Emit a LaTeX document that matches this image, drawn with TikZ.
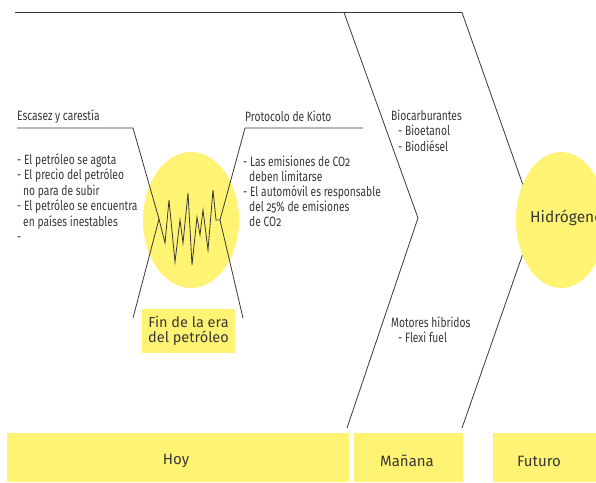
\documentclass[tikz,border=0pt]{standalone}
\usepackage{fontspec}
\setmainfont{Fira Sans}
\newfontfamily\condf[FakeStretch=0.76,Numbers=OldStyle]{Fira Sans}
\usetikzlibrary{shapes.geometric}
\definecolor{ylw}{HTML}{FFF373}
\definecolor{ink}{HTML}{383838}
\begin{document}
\begin{tikzpicture}[x=1pt,y=-1pt,
  ln/.style={anchor=base west,inner sep=0pt,text=ink,font=\condf\fontsize{13.5}{15}\selectfont},
  stroke/.style={draw=ink,line width=0.8pt},
  blob/.style={ellipse,fill=ylw,draw=none,inner sep=0pt},
  lbl/.style={inner sep=0pt,text=ink,font=\fontsize{15}{17}\selectfont}]
\useasboundingbox (0,0) rectangle (596,482);
\begin{scope}
\clip (0,0) rectangle (596,482);
% left ellipse
\node[blob,minimum width=96pt,minimum height=136pt] (oil) at (191,220) {};
% chevron lines
\coordinate (t0) at (15,12.5);
\coordinate (c1) at (344,12.5);
\coordinate (c2) at (418,218);
\coordinate (c3) at (347,428);
\coordinate (r1) at (462,12.5);
\coordinate (r2) at (535,219);
\coordinate (r3) at (462,428);
\draw[stroke] (t0) -- (r1) -- (r2) -- (r3);
\draw[stroke] (c1) -- (c2) -- (c3);
% right ellipse
\node[blob,minimum width=90pt,minimum height=136pt] (h2) at (561,220) {};
\node[lbl,anchor=west,font=\fontsize{15.5}{17}\selectfont] (h2t) at (530,218) {Hidrógeno};
% left branch
\coordinate (la) at (17,128);
\coordinate (lb) at (133,128);
\coordinate (lv) at (159,219);
\coordinate (lc) at (133,318);
\draw[stroke] (la) -- (lb) -- (lv) -- (lc);
% right branch
\coordinate (ra) at (363,128);
\coordinate (rb) at (245,128);
\coordinate (rv) at (220,220);
\coordinate (rc) at (243,318);
\draw[stroke] (ra) -- (rb) -- (rv) -- (rc);
% zigzag
\draw[stroke,line join=miter] (lv) -- (165,243) -- (169,200) -- (175,262) -- (180,220) -- (183,243) -- (188,193) -- (192,265) -- (197,217) -- (200,235) -- (203,210) -- (208,250) -- (213,190) -- (216,220) -- (rv);
% left texts
\node[ln] (l0) at (17,120) {Escasez y carestía};
\node[ln] (l1) at (17,164) {- El petróleo se agota};
\node[ln] (l2) at (17,179.5) {- El precio del petróleo};
\node[ln] (l3) at (23,195) {no para de subir};
\node[ln] (l4) at (17,210.5) {- El petróleo se encuentra};
\node[ln] (l5) at (23,226) {en países inestables};
\node[ln] (l6) at (17,241.5) {-};
% right texts
\node[ln] (k0) at (245,121) {Protocolo de Kioto};
\node[ln] (k1) at (243,166) {- Las emisiones de CO2};
\node[ln] (k2) at (249,181) {deben limitarse};
\node[ln] (k3) at (243,196) {- El automóvil es responsable};
\node[ln] (k4) at (249,211) {del 25\% de emisiones};
\node[ln] (k5) at (249,226) {de CO2};
% middle texts
\node[ln] (m0) at (391,120) {Biocarburantes};
\node[ln] (m1) at (398,135.5) {- Bioetanol};
\node[ln] (m2) at (398,151) {- Biodiésel};
\node[ln] (m3) at (391,327) {Motores híbridos};
\node[ln] (m4) at (398,342.5) {- Flexi fuel};
% fin box
\node[fill=ylw,minimum width=93pt,minimum height=44pt,inner sep=0pt,align=center,text=ink,font=\fontsize{14.5}{15}\selectfont] (fin) at (188.5,331) {Fin de la era\\del petróleo};
% bottom bands
\fill[ylw] (7,433) rectangle (349,482);
\fill[ylw] (354,433) rectangle (463,482);
\fill[ylw] (493,433) rectangle (600,482);
\node[lbl] (hoy) at (176,461) {Hoy};
\node[lbl] (man) at (407,461) {Mañana};
\node[lbl] (fut) at (539,461) {Futuro};
\end{scope}
\end{tikzpicture}
\end{document}
